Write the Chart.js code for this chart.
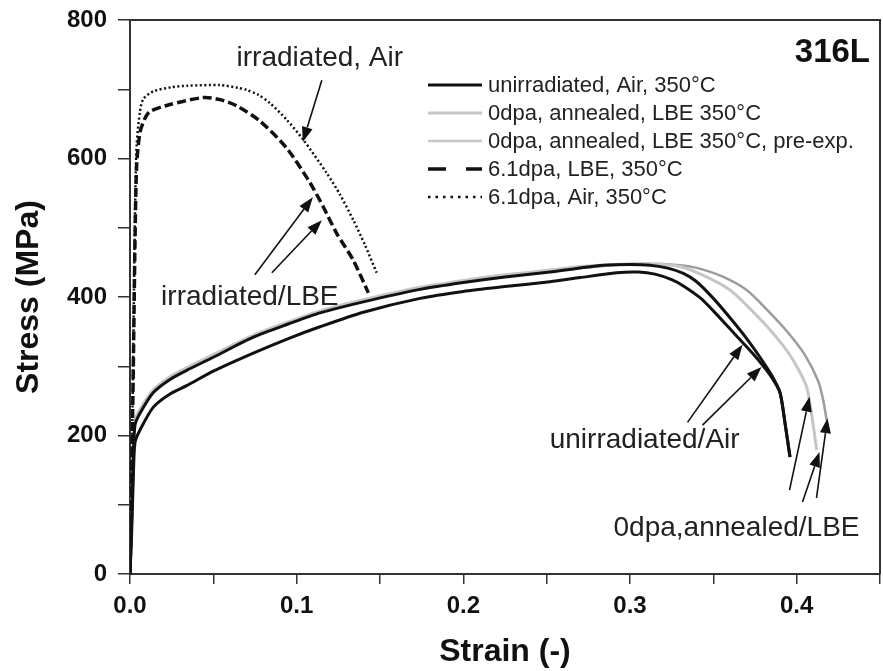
<!DOCTYPE html>
<html>
<head>
<meta charset="utf-8">
<script src="https://cdn.jsdelivr.net/npm/chart.js@4.4.1/dist/chart.umd.min.js"></script>
<style>
html,body{margin:0;padding:0;background:#fff;}
#wrap{width:883px;height:671px;}
</style>
</head>
<body>
<div id="wrap"><canvas id="c" width="883" height="671"></canvas></div>
<script>
// ---------- data ----------
const airStrain  = [0, 0.001, 0.002, 0.003, 0.006, 0.014, 0.024, 0.034, 0.050, 0.074, 0.095, 0.114, 0.140, 0.174, 0.200, 0.225, 0.252, 0.270, 0.292, 0.305, 0.315, 0.325, 0.332, 0.342, 0.350, 0.360, 0.370, 0.378, 0.385, 0.390, 0.393, 0.396];
const airStress  = [0, 60, 140, 190, 208, 241, 260, 272, 293, 319, 340, 357, 378, 398, 408, 415, 422, 428, 435, 436, 433, 425, 416, 399, 380, 354, 328, 306, 284, 262, 218, 169];

const air2Strain = [0, 0.001, 0.002, 0.003, 0.006, 0.014, 0.024, 0.034, 0.050, 0.074, 0.095, 0.114, 0.140, 0.174, 0.200, 0.225, 0.252, 0.270, 0.284, 0.300, 0.312, 0.322, 0.332, 0.340, 0.350, 0.360, 0.370, 0.378, 0.385, 0.390, 0.393, 0.396];
const air2Stress = [0, 80, 170, 215, 232, 262, 281, 294, 313, 342, 361, 377, 393, 411, 421, 429, 436, 442, 446, 447, 446, 442, 434, 422, 398, 370, 340, 313, 287, 262, 218, 169];

const lbe0Strain = [0, 0.001, 0.002, 0.003, 0.006, 0.014, 0.024, 0.034, 0.050, 0.074, 0.095, 0.114, 0.140, 0.174, 0.200, 0.225, 0.252, 0.270, 0.290, 0.310, 0.330, 0.345, 0.360, 0.370, 0.382, 0.394, 0.400, 0.406, 0.409, 0.412];
const lbe0Stress = [0, 90, 180, 222, 238, 266, 285, 298, 317, 345, 364, 380, 396, 414, 424, 432, 439, 444, 447, 448, 444, 430, 410, 388, 358, 323, 300, 270, 230, 179];

const lbePreStrain = [0, 0.001, 0.002, 0.003, 0.006, 0.014, 0.024, 0.034, 0.050, 0.074, 0.095, 0.114, 0.140, 0.174, 0.200, 0.225, 0.252, 0.270, 0.290, 0.310, 0.330, 0.340, 0.355, 0.370, 0.382, 0.395, 0.405, 0.413, 0.416, 0.418];
const lbePreStress = [0, 85, 175, 220, 236, 264, 283, 296, 315, 343, 362, 378, 394, 412, 422, 430, 437, 442, 446, 448, 446, 442, 430, 410, 382, 348, 316, 278, 250, 222];

const irrLbeStrain = [0, 0.001, 0.002, 0.003, 0.004, 0.006, 0.009, 0.012, 0.024, 0.044, 0.054, 0.064, 0.078, 0.094, 0.108, 0.116, 0.124, 0.134, 0.143];
const irrLbeStress = [0, 140, 300, 480, 590, 638, 658, 668, 678, 688, 685, 676, 654, 615, 565, 530, 492, 453, 406];

const irrAirStrain = [0, 0.001, 0.002, 0.003, 0.004, 0.006, 0.008, 0.014, 0.025, 0.034, 0.054, 0.065, 0.070, 0.077, 0.084, 0.094, 0.104, 0.118, 0.126, 0.134, 0.141, 0.148];
const irrAirStress = [0, 150, 330, 520, 620, 668, 686, 697, 703, 705, 706, 702, 699, 692, 680, 656, 627, 579, 548, 511, 475, 435];

const seriesLabels = ['unirradiated, Air, 350°C', '0dpa, annealed, LBE 350°C', '0dpa, annealed, LBE 350°C, pre-exp.', '6.1dpa, LBE, 350°C', '6.1dpa, Air, 350°C'];

const xTicks = [0, 0.1, 0.2, 0.3, 0.4];
const yTicks = [0, 200, 400, 600, 800];

const noteTexts  = ['irradiated, Air', 'irradiated/LBE', 'unirradiated/Air', '0dpa,annealed/LBE'];
const noteX      = [0.1139, 0.0719, 0.3088, 0.3639];
const noteY      = [745, 400, 193, 66];

const arrowFromX = [0.1151, 0.0749, 0.0851, 0.3345, 0.3435, 0.3957, 0.4035, 0.4119];
const arrowFromY = [713, 432, 435, 219, 215, 121, 104, 110];
const arrowToX   = [0.1037, 0.1097, 0.1151, 0.3675, 0.3789, 0.4077, 0.4137, 0.4185];
const arrowToY   = [624, 544, 511, 331, 299, 256, 176, 225];

const materialLabel = '316L';

// ---------- build ----------
function pts(xs, ys){ return xs.map((x,i)=>({x:x, y:ys[i]})); }
const FONT = "'Liberation Sans', Arial, Helvetica, sans-serif";

const datasets = [
  {label: seriesLabels[0], data: pts(airStrain, airStress), borderColor:'#111', borderWidth:3, order:1},
  {label: seriesLabels[0], data: pts(air2Strain, air2Stress), borderColor:'#111', borderWidth:3, order:1, hideInLegend:true},
  {label: seriesLabels[1], data: pts(lbe0Strain, lbe0Stress), borderColor:'#c6c6c6', borderWidth:3, order:4},
  {label: seriesLabels[2], data: pts(lbePreStrain, lbePreStress), borderColor:'#9c9c9c', borderWidth:2.5, order:5, legendColor:'#c6c6c6'},
  {label: seriesLabels[3], data: pts(irrLbeStrain, irrLbeStress), borderColor:'#111', borderWidth:3.5, borderDash:[9,4], order:1, legendDash:[18,20]},
  {label: seriesLabels[4], data: pts(irrAirStrain, irrAirStress), borderColor:'#111', borderWidth:2.5, borderDash:[2,2.5], order:1, legendDash:[2.5,5]}
];
datasets.forEach(d=>{ d.pointRadius=0; d.tension=0.25; d.fill=false; });

const framePlugin = {
  id:'frame',
  afterDraw(chart){
    const {ctx, chartArea:a} = chart;
    ctx.save();
    ctx.strokeStyle='#333'; ctx.lineWidth=2;
    ctx.beginPath();
    ctx.moveTo(a.left, a.top); ctx.lineTo(a.right, a.top); ctx.lineTo(a.right, a.bottom);
    ctx.stroke();
    ctx.restore();
  }
};

const notesPlugin = {
  id:'notes',
  afterDatasetsDraw(chart){
    const {ctx, scales:{x, y}, chartArea:a} = chart;
    ctx.save();
    ctx.fillStyle='#222';
    ctx.font = "28px " + FONT;
    ctx.textAlign='center'; ctx.textBaseline='middle';
    noteTexts.forEach((t,i)=>{ ctx.fillText(t, x.getPixelForValue(noteX[i]), y.getPixelForValue(noteY[i])); });
    ctx.strokeStyle='#111'; ctx.fillStyle='#111'; ctx.lineWidth=1.6;
    arrowFromX.forEach((fx,i)=>{
      const x0=x.getPixelForValue(fx), y0=y.getPixelForValue(arrowFromY[i]);
      const x1=x.getPixelForValue(arrowToX[i]), y1=y.getPixelForValue(arrowToY[i]);
      const ang=Math.atan2(y1-y0, x1-x0), L=15, W=5.5;
      const bx=x1-L*Math.cos(ang), by=y1-L*Math.sin(ang);
      ctx.beginPath(); ctx.moveTo(x0,y0); ctx.lineTo(bx,by); ctx.stroke();
      ctx.beginPath();
      ctx.moveTo(x1,y1);
      ctx.lineTo(bx + W*Math.sin(ang), by - W*Math.cos(ang));
      ctx.lineTo(bx - W*Math.sin(ang), by + W*Math.cos(ang));
      ctx.closePath(); ctx.fill();
    });
    ctx.font = "bold 33px " + FONT;
    ctx.textAlign='right'; ctx.fillStyle='#111';
    ctx.fillText(materialLabel, a.right-10, a.top+33);
    const lx = a.left + 298, ly = a.top + 65, dy = 28;
    let row = 0;
    ctx.font = "22px " + FONT; ctx.textAlign='left';
    chart.data.datasets.forEach(d=>{
      if (d.hideInLegend) return;
      const yy = ly + row*dy;
      ctx.save();
      ctx.strokeStyle = d.legendColor || d.borderColor;
      ctx.lineWidth = d.borderWidth;
      ctx.setLineDash(d.legendDash || d.borderDash || []);
      ctx.beginPath(); ctx.moveTo(lx, yy); ctx.lineTo(lx+54, yy); ctx.stroke();
      ctx.restore();
      ctx.fillStyle='#222';
      ctx.fillText(d.label, lx+60, yy+1);
      row++;
    });
    ctx.restore();
  }
};

new Chart(document.getElementById('c'), {
  type:'line',
  data:{datasets},
  options:{
    responsive:false, animation:false, devicePixelRatio:1,
    layout:{padding:{left:0, top:20, right:3, bottom:0}},
    plugins:{legend:{display:false}, tooltip:{enabled:false}},
    scales:{
      x:{
        type:'linear', min:0, max:0.45,
        afterBuildTicks(s){ const t=[]; for(let i=0;i<=9;i++) t.push({value:Math.round(i*5)/100}); s.ticks=t; },
        afterFit(s){ s.height = 97; s.paddingLeft = 0; s.paddingRight = 0; },
        ticks:{autoSkip:false, maxRotation:0, padding:8, color:'#111', font:{family:FONT, size:24, weight:'bold'},
          callback(v){ const m = xTicks.find(t=>Math.abs(t-v)<1e-6); return m===undefined ? '' : m.toFixed(1); }},
        grid:{drawOnChartArea:false, drawTicks:true, tickLength:10, color:'#333', lineWidth:1.5},
        border:{display:true, color:'#333', width:2},
        title:{display:true, text:'Strain (-)', color:'#111', font:{family:FONT, size:32, weight:'bold'}, padding:{top:0,bottom:0}}
      },
      y:{
        type:'linear', min:0, max:800,
        afterBuildTicks(s){ const t=[]; for(let i=0;i<=8;i++) t.push({value:i*100}); s.ticks=t; },
        afterFit(s){ s.width = 130; s.paddingTop = 0; s.paddingBottom = 0; },
        ticks:{autoSkip:false, padding:11, color:'#111', font:{family:FONT, size:24, weight:'bold'},
          callback(v){ return yTicks.includes(Math.round(v)) && Math.abs(v-Math.round(v))<1e-6 ? String(Math.round(v)) : ''; }},
        grid:{drawOnChartArea:false, drawTicks:true, tickLength:12, color:'#333', lineWidth:1.5},
        border:{display:true, color:'#333', width:2},
        title:{display:true, text:'Stress (MPa)', color:'#111', font:{family:FONT, size:32, weight:'bold'}, padding:{top:10,bottom:0}}
      }
    }
  },
  plugins:[framePlugin, notesPlugin]
});
</script>
</body>
</html>
